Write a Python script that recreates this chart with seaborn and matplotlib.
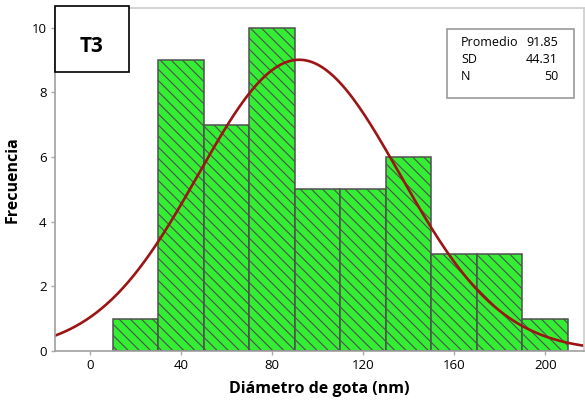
import numpy as np
import pandas as pd
import matplotlib
matplotlib.use("Agg")
import matplotlib.pyplot as plt
import seaborn as sns
from matplotlib.patches import Rectangle

# Data
bin_edges = [10, 30, 50, 70, 90, 110, 130, 150, 170, 190, 210]
counts = [1, 9, 7, 10, 5, 5, 6, 3, 3, 1]
mean_val = 91.85
sd_val = 44.31
n_val = 50
x_ticks = [0, 40, 80, 120, 160, 200]
y_ticks = [0, 2, 4, 6, 8, 10]
title_label = "T3"
xlabel = "Diámetro de gota (nm)"
ylabel = "Frecuencia"

sns.set_style("white")
plt.rcParams['font.family'] = ['Open Sans', 'DejaVu Sans']
plt.rcParams['hatch.color'] = '#505050'
plt.rcParams['hatch.linewidth'] = 0.8
plt.rcParams['text.color'] = 'black'
plt.rcParams['axes.labelcolor'] = 'black'
plt.rcParams['xtick.color'] = 'black'
plt.rcParams['ytick.color'] = 'black'

fig = plt.figure(figsize=(5.85, 4.05), dpi=100)
ax = fig.add_axes([0.094, 0.133, 0.904, 0.847])

mids = [(bin_edges[i] + bin_edges[i + 1]) / 2 for i in range(len(counts))]
df = pd.DataFrame({"x": mids, "w": counts})
sns.histplot(data=df, x="x", weights="w", bins=bin_edges, ax=ax,
             color="#33ee33", alpha=1, edgecolor="#505050", linewidth=1.1,
             hatch="\\\\\\")

xs = np.linspace(-16, 218, 400)
binw = bin_edges[1] - bin_edges[0]
ys = n_val * binw / (sd_val * np.sqrt(2 * np.pi)) * np.exp(-0.5 * ((xs - mean_val) / sd_val) ** 2)
sns.lineplot(x=xs, y=ys, ax=ax, color="#9c1414", linewidth=1.9)

ax.set_xlim(-15.5, 217)
ax.set_ylim(0, 10.6)
ax.set_xticks(x_ticks)
ax.set_yticks(y_ticks)
ax.tick_params(axis='both', labelsize=9.5, length=3, width=1, color='#aaaaaa',
               labelcolor='black', pad=3, bottom=True, left=True, direction='out')
ax.set_xlabel(xlabel, fontsize=11.5, fontweight='bold', labelpad=6, color='black')
ax.set_ylabel(ylabel, fontsize=11.5, fontweight='bold', labelpad=8, color='black')

for s in ['left', 'bottom']:
    ax.spines[s].set_color('#a0a0a0')
    ax.spines[s].set_linewidth(1.2)
for s in ['top', 'right']:
    ax.spines[s].set_color('#cccccc')
    ax.spines[s].set_linewidth(1.2)

# T3 box
fig.patches.append(Rectangle((55 / 585, 1 - 72 / 405), 74 / 585, 66 / 405,
                             transform=fig.transFigure, facecolor='white',
                             edgecolor='black', linewidth=1.2, zorder=10))
fig.text(91 / 585, 1 - 47 / 405, title_label, fontsize=15, fontweight='bold',
         ha='center', va='center', zorder=11, color='black')

# Stats box
box_l, box_t, box_r, box_b = 447, 29, 574, 98
fig.patches.append(Rectangle((box_l / 585, 1 - box_b / 405), (box_r - box_l) / 585,
                             (box_b - box_t) / 405, transform=fig.transFigure,
                             facecolor='white', edgecolor='#999999', linewidth=1.2, zorder=10))
labels = ["Promedio", "SD", "N"]
values = [f"{mean_val:.2f}", f"{sd_val:.2f}", f"{n_val}"]
for i, (lab, val) in enumerate(zip(labels, values)):
    yy = 1 - (42 + i * 17.3) / 405
    fig.text(461 / 585, yy, lab, fontsize=9, ha='left', va='center', zorder=11, color='black')
    fig.text(558 / 585, yy, val, fontsize=9, ha='right', va='center', zorder=11, color='black')

fig.savefig("out.png", dpi=100)
